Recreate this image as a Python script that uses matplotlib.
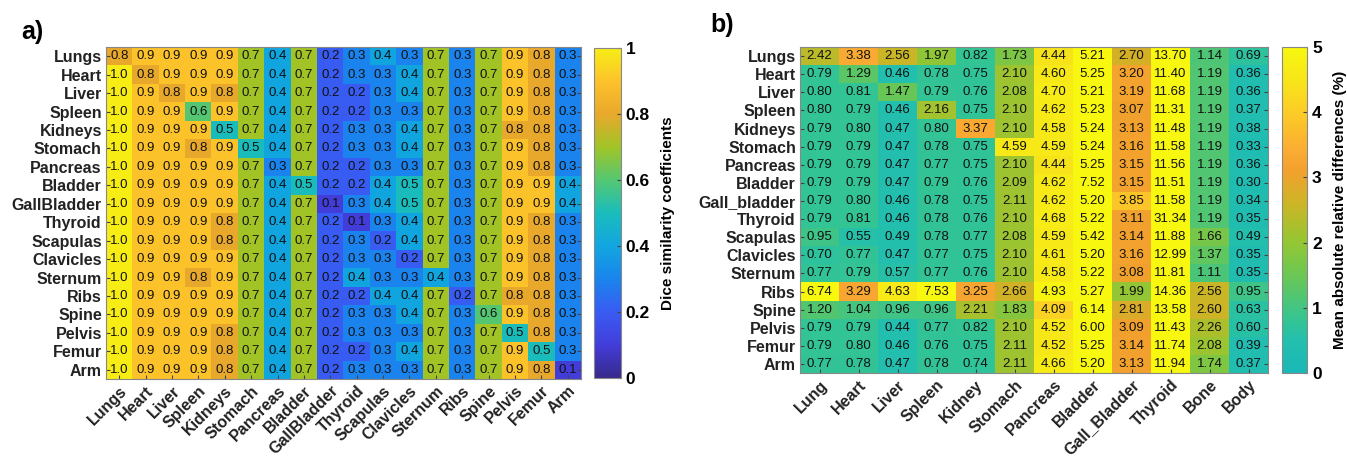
import numpy as np
import matplotlib
matplotlib.use("Agg")
import matplotlib.pyplot as plt
from matplotlib.colors import LinearSegmentedColormap

plt.rcParams['font.family'] = ['Liberation Sans', 'DejaVu Sans']

# ---- data ----
dice_labels = ['Lungs', 'Heart', 'Liver', 'Spleen', 'Kidneys', 'Stomach', 'Pancreas',
               'Bladder', 'GallBladder', 'Thyroid', 'Scapulas', 'Clavicles', 'Sternum',
               'Ribs', 'Spine', 'Pelvis', 'Femur', 'Arm']

dice = [
    [0.8, 0.9, 0.9, 0.9, 0.9, 0.7, 0.4, 0.7, 0.2, 0.3, 0.4, 0.3, 0.7, 0.3, 0.7, 0.9, 0.8, 0.3],
    [1.0, 0.8, 0.9, 0.9, 0.9, 0.7, 0.4, 0.7, 0.2, 0.3, 0.3, 0.4, 0.7, 0.3, 0.7, 0.9, 0.8, 0.3],
    [1.0, 0.9, 0.8, 0.9, 0.8, 0.7, 0.4, 0.7, 0.2, 0.2, 0.3, 0.4, 0.7, 0.3, 0.7, 0.9, 0.8, 0.3],
    [1.0, 0.9, 0.9, 0.6, 0.9, 0.7, 0.4, 0.7, 0.2, 0.2, 0.3, 0.3, 0.7, 0.3, 0.7, 0.9, 0.8, 0.3],
    [1.0, 0.9, 0.9, 0.9, 0.5, 0.7, 0.4, 0.7, 0.2, 0.3, 0.3, 0.4, 0.7, 0.3, 0.7, 0.8, 0.8, 0.3],
    [1.0, 0.9, 0.9, 0.8, 0.9, 0.5, 0.4, 0.7, 0.2, 0.3, 0.3, 0.4, 0.7, 0.3, 0.7, 0.9, 0.8, 0.3],
    [1.0, 0.9, 0.9, 0.9, 0.9, 0.7, 0.3, 0.7, 0.2, 0.2, 0.3, 0.3, 0.7, 0.3, 0.7, 0.9, 0.8, 0.3],
    [1.0, 0.9, 0.9, 0.9, 0.9, 0.7, 0.4, 0.5, 0.2, 0.2, 0.4, 0.5, 0.7, 0.3, 0.7, 0.9, 0.9, 0.4],
    [1.0, 0.9, 0.9, 0.9, 0.9, 0.7, 0.4, 0.7, 0.1, 0.3, 0.4, 0.5, 0.7, 0.3, 0.7, 0.9, 0.9, 0.4],
    [1.0, 0.9, 0.9, 0.9, 0.8, 0.7, 0.4, 0.7, 0.2, 0.1, 0.3, 0.4, 0.7, 0.3, 0.7, 0.9, 0.8, 0.3],
    [1.0, 0.9, 0.9, 0.9, 0.8, 0.7, 0.4, 0.7, 0.2, 0.3, 0.2, 0.4, 0.7, 0.3, 0.7, 0.9, 0.8, 0.3],
    [1.0, 0.9, 0.9, 0.9, 0.9, 0.7, 0.4, 0.7, 0.2, 0.3, 0.3, 0.2, 0.7, 0.3, 0.7, 0.9, 0.8, 0.3],
    [1.0, 0.9, 0.9, 0.8, 0.9, 0.7, 0.4, 0.7, 0.2, 0.4, 0.3, 0.3, 0.4, 0.3, 0.7, 0.9, 0.8, 0.3],
    [1.0, 0.9, 0.9, 0.9, 0.9, 0.7, 0.4, 0.7, 0.2, 0.2, 0.4, 0.4, 0.7, 0.2, 0.7, 0.8, 0.8, 0.3],
    [1.0, 0.9, 0.9, 0.9, 0.9, 0.7, 0.4, 0.7, 0.2, 0.3, 0.3, 0.4, 0.7, 0.3, 0.6, 0.9, 0.8, 0.3],
    [1.0, 0.9, 0.9, 0.9, 0.8, 0.7, 0.4, 0.7, 0.2, 0.3, 0.3, 0.3, 0.7, 0.3, 0.7, 0.5, 0.8, 0.3],
    [1.0, 0.9, 0.9, 0.9, 0.8, 0.7, 0.4, 0.7, 0.2, 0.2, 0.3, 0.4, 0.7, 0.3, 0.7, 0.9, 0.5, 0.3],
    [1.0, 0.9, 0.9, 0.9, 0.8, 0.7, 0.4, 0.7, 0.2, 0.3, 0.3, 0.3, 0.7, 0.3, 0.7, 0.9, 0.8, 0.1],
]

mard_rows = ['Lungs', 'Heart', 'Liver', 'Spleen', 'Kidneys', 'Stomach', 'Pancreas',
             'Bladder', 'Gall_bladder', 'Thyroid', 'Scapulas', 'Clavicles', 'Sternum',
             'Ribs', 'Spine', 'Pelvis', 'Femur', 'Arm']
mard_cols = ['Lung', 'Heart', 'Liver', 'Spleen', 'Kidney', 'Stomach', 'Pancreas',
             'Bladder', 'Gall_Bladder', 'Thyroid', 'Bone', 'Body']

mard = [
    [2.42, 3.38, 2.56, 1.97, 0.82, 1.73, 4.44, 5.21, 2.70, 13.70, 1.14, 0.69],
    [0.79, 1.29, 0.46, 0.78, 0.75, 2.10, 4.60, 5.25, 3.20, 11.40, 1.19, 0.36],
    [0.80, 0.81, 1.47, 0.79, 0.76, 2.08, 4.70, 5.21, 3.19, 11.68, 1.19, 0.36],
    [0.80, 0.79, 0.46, 2.16, 0.75, 2.10, 4.62, 5.23, 3.07, 11.31, 1.19, 0.37],
    [0.79, 0.80, 0.47, 0.80, 3.37, 2.10, 4.58, 5.24, 3.13, 11.48, 1.19, 0.38],
    [0.79, 0.79, 0.47, 0.78, 0.75, 4.59, 4.59, 5.24, 3.16, 11.58, 1.19, 0.33],
    [0.79, 0.79, 0.47, 0.77, 0.75, 2.10, 4.44, 5.25, 3.15, 11.56, 1.19, 0.36],
    [0.79, 0.79, 0.47, 0.79, 0.76, 2.09, 4.62, 7.52, 3.15, 11.51, 1.19, 0.30],
    [0.79, 0.80, 0.46, 0.78, 0.75, 2.11, 4.62, 5.20, 3.85, 11.58, 1.19, 0.34],
    [0.79, 0.81, 0.46, 0.78, 0.76, 2.10, 4.68, 5.22, 3.11, 31.34, 1.19, 0.35],
    [0.95, 0.55, 0.49, 0.78, 0.77, 2.08, 4.59, 5.42, 3.14, 11.88, 1.66, 0.49],
    [0.70, 0.77, 0.47, 0.77, 0.75, 2.10, 4.61, 5.20, 3.16, 12.99, 1.37, 0.35],
    [0.77, 0.79, 0.57, 0.77, 0.76, 2.10, 4.58, 5.22, 3.08, 11.81, 1.11, 0.35],
    [6.74, 3.29, 4.63, 7.53, 3.25, 2.66, 4.93, 5.27, 1.99, 14.36, 2.56, 0.95],
    [1.20, 1.04, 0.96, 0.96, 2.21, 1.83, 4.09, 6.14, 2.81, 13.58, 2.60, 0.63],
    [0.79, 0.79, 0.44, 0.77, 0.82, 2.10, 4.52, 6.00, 3.09, 11.43, 2.26, 0.60],
    [0.79, 0.80, 0.46, 0.76, 0.75, 2.11, 4.52, 5.25, 3.14, 11.74, 2.08, 0.39],
    [0.77, 0.78, 0.47, 0.78, 0.74, 2.11, 4.66, 5.20, 3.13, 11.94, 1.74, 0.37],
]

# ---- saturated parula-like colormaps, matched to the picture ----
dice_cmap = LinearSegmentedColormap.from_list('dice', [
    (0.00, (0.22, 0.16, 0.55)),
    (0.10, (0.26, 0.24, 0.86)),
    (0.20, (0.22, 0.36, 0.95)),
    (0.30, (0.10, 0.52, 0.93)),
    (0.40, (0.07, 0.65, 0.88)),
    (0.50, (0.10, 0.74, 0.74)),
    (0.60, (0.33, 0.78, 0.45)),
    (0.70, (0.63, 0.77, 0.15)),
    (0.80, (0.91, 0.66, 0.17)),
    (0.90, (0.99, 0.76, 0.17)),
    (1.00, (0.97, 0.93, 0.08)),
])

mard_cmap = LinearSegmentedColormap.from_list('mard', [
    (0.00, (0.10, 0.72, 0.72)),
    (0.10, (0.14, 0.75, 0.68)),
    (0.16, (0.20, 0.77, 0.58)),
    (0.30, (0.42, 0.78, 0.33)),
    (0.40, (0.58, 0.78, 0.20)),
    (0.52, (0.80, 0.71, 0.15)),
    (0.62, (0.95, 0.63, 0.18)),
    (0.68, (0.98, 0.67, 0.20)),
    (0.80, (0.99, 0.80, 0.15)),
    (0.90, (0.97, 0.90, 0.10)),
    (1.00, (0.97, 0.97, 0.06)),
])

fig = plt.figure(figsize=(13.47, 4.62), dpi=100)

ax1 = fig.add_axes([0.0787, 0.1797, 0.3526, 0.7186])
cax1 = fig.add_axes([0.441, 0.182, 0.020, 0.714])
ax2 = fig.add_axes([0.594, 0.1926, 0.3474, 0.7056])
cax2 = fig.add_axes([0.9518, 0.1926, 0.0186, 0.7056])


def draw(ax, cax, vals, rows, cols, cmap, vmax, fmt, cticks, clabel, cellsize):
    vals = np.array(vals)
    im = ax.imshow(vals, cmap=cmap, vmin=0, vmax=vmax, aspect='auto',
                   interpolation='nearest')
    for i in range(vals.shape[0]):
        for j in range(vals.shape[1]):
            ax.text(j, i, fmt.format(vals[i, j]), ha='center', va='center',
                    fontsize=cellsize, color='#111111')
    ax.set_yticks(range(len(rows)))
    ax.set_yticklabels(rows, fontsize=11.5, fontweight='bold', color='#222222')
    ax.set_xticks(range(len(cols)))
    ax.set_xticklabels(cols, fontsize=11.5, fontweight='bold', color='#222222',
                       rotation=45, ha='right', rotation_mode='anchor')
    ax.tick_params(direction='in', length=3, right=True, color='#444444', pad=3)
    for s in ax.spines.values():
        s.set_color('#888888')
        s.set_linewidth(0.8)
    cb = fig.colorbar(im, cax=cax, ticks=cticks)
    cb.outline.set_edgecolor('#888888')
    cb.ax.tick_params(direction='in', length=3, labelsize=12.5, color='#444444')
    cb.ax.set_yticklabels([('%g' % t) for t in cticks])
    for t in cb.ax.get_yticklabels():
        t.set_fontweight('bold')
    cb.set_label(clabel, fontsize=11, fontweight='bold', labelpad=8)


draw(ax1, cax1, dice, dice_labels, dice_labels, dice_cmap, 1.0, '{:.1f}',
     [0, 0.2, 0.4, 0.6, 0.8, 1], 'Dice similarity coefficients', 9.5)
draw(ax2, cax2, mard, mard_rows, mard_cols, mard_cmap, 5.0, '{:.2f}',
     [0, 1, 2, 3, 4, 5], 'Mean absolute relative differences (%)', 9.5)

fig.text(0.016, 0.915, 'a)', fontsize=18, fontweight='bold')
fig.text(0.527, 0.930, 'b)', fontsize=18, fontweight='bold')

fig.savefig('out.png', dpi=100)
